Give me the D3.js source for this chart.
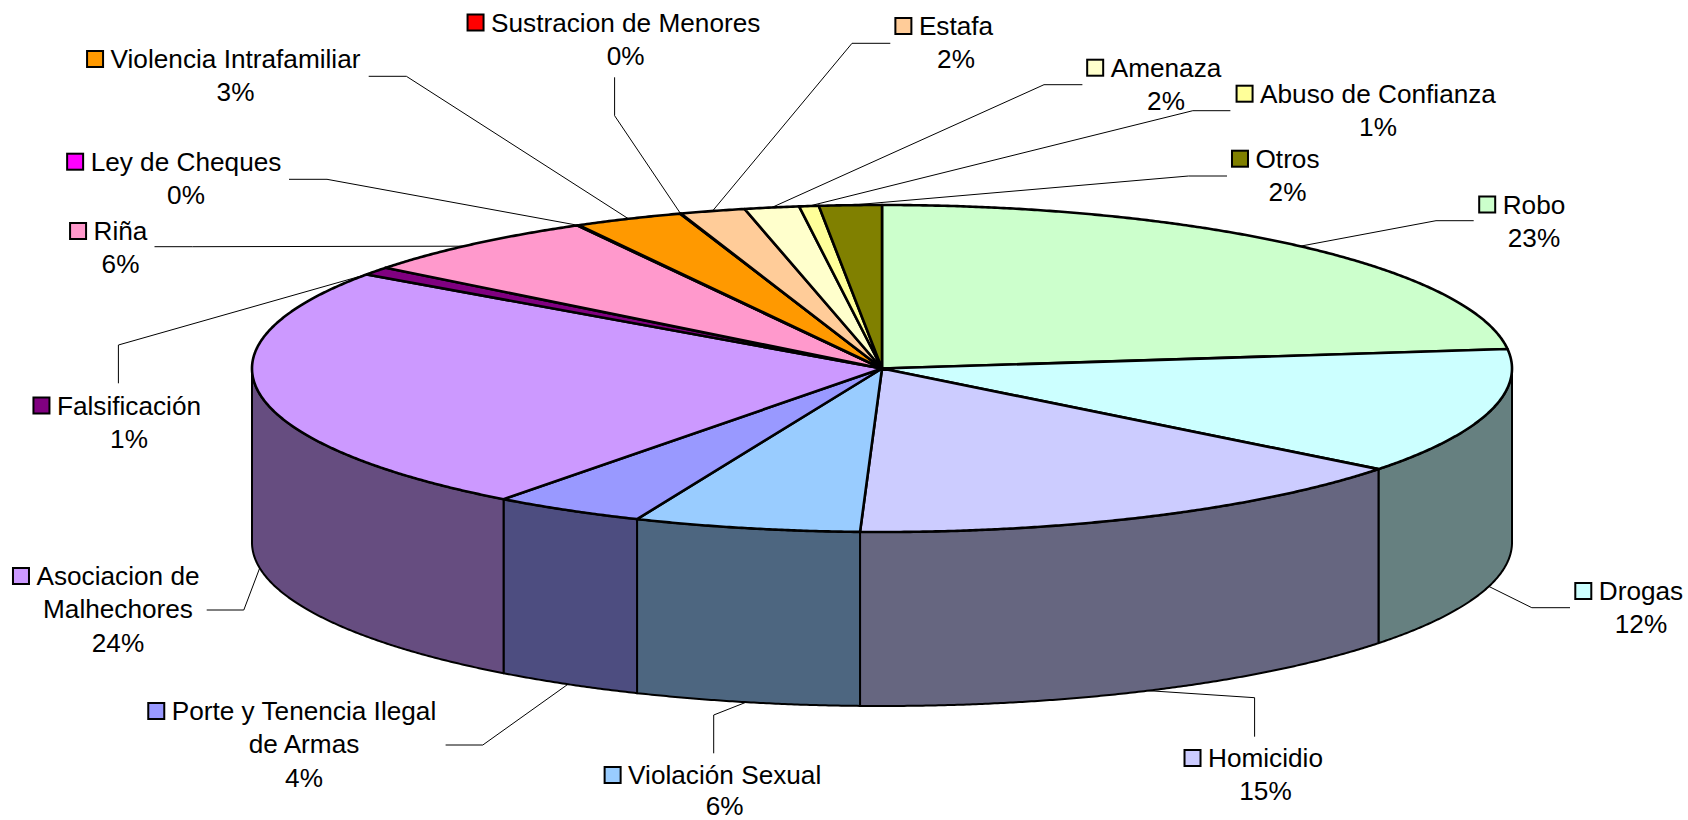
<!DOCTYPE html>
<html>
<head>
<meta charset="utf-8">
<script src="https://cdn.jsdelivr.net/npm/d3@7/dist/d3.min.js"></script>
<style>
html,body{margin:0;padding:0;background:#fff;overflow:hidden}
svg{display:block}
text{font-family:"Liberation Sans",Arial,sans-serif;font-size:26.2px;fill:#000}
</style>
</head>
<body>
<svg id="chart" width="1688" height="820"></svg>
<script>
// ---- data ----
const categories = ["Robo","Drogas","Homicidio","Violación Sexual","Porte y Tenencia Ilegal de Armas","Asociacion de Malhechores","Falsificación","Riña","Ley de Cheques","Violencia Intrafamiliar","Sustracion de Menores","Estafa","Amenaza","Abuso de Confianza","Otros"];
const shares = [23.1, 12.45, 15, 5.8, 3.9, 24.5, 0.8, 6.4, 0.05, 2.8, 0.02, 1.67, 1.4, 0.5, 1.6];
const percentLabels = ["23%","12%","15%","6%","4%","24%","1%","6%","0%","3%","0%","2%","2%","1%","2%"];
const colors = ["#CCFFCC","#CCFFFF","#CCCCFF","#99CCFF","#9999FF","#CC99FF","#800080","#FF99CC","#FF00FF","#FF9900","#FF0000","#FFCC99","#FFFFCC","#FFFF99","#808000"];

// ---- layout (not data) ----
const nameLines = [["Robo"],["Drogas"],["Homicidio"],["Violación Sexual"],["Porte y Tenencia Ilegal","de Armas"],["Asociacion de","Malhechores"],["Falsificación"],["Riña"],["Ley de Cheques"],["Violencia Intrafamiliar"],["Sustracion de Menores"],["Estafa"],["Amenaza"],["Abuso de Confianza"],["Otros"]];
const labelAnchor = [[1534,213.5],[1641,600],[1265.5,767],[724.7,784],[304,720],[118,585],[129,414.5],[120.5,240],[186,170.7],[235.5,68],[625.7,31.5],[956,35],[1166,76.7],[1378,102.7],[1287.5,167.7]];
const leaderBends = [
  [[1436,220.7],[1473.7,220.7]],[[1531.8,607.7],[1570,607.7]],[[1254.6,697.7],[1254.6,736.7]],
  [[713.7,715],[713.7,753.3]],[[482.8,745],[445.6,745]],[[243.8,610],[206.7,610]],
  [[118.4,345],[118.4,383.3]],[[192.7,246.7],[154.5,246.7]],[[327,179.3],[289,179.3]],
  [[406.4,76.3],[368.7,76.3]],[[614.6,115.7],[614.6,77.3]],[[852,43.3],[890.3,43.3]],
  [[1044,84.7],[1082.4,84.7]],[[1192.8,110.7],[1230.4,110.7]],[[1188.5,176],[1227,176]]
];
const leaderAngleShift = [0,0,0,0,0,0,-1.4,-1.1,0,0,0,0,0,0,0];
const CX = 882, CY = 368.5, RX = 630, RY = 163.5, DEPTH = 174, LINE_H = 33.4, MAX_BASELINE = 814.5;

const svg = d3.select("#chart");
const x = d3.scaleLinear().domain([-1,1]).range([CX-RX, CX+RX]);
const y = d3.scaleLinear().domain([-1,1]).range([CY-RY, CY+RY]);

const slices = d3.pie().sort(null).value(d=>d)(shares);

const rim = (t, dz=0) => [x(Math.sin(t)), y(-Math.cos(t)) + dz];
const arcPts = (a, b, dz=0) => {
  const n = Math.max(2, Math.ceil((b-a)/0.005));
  return d3.range(n+1).map(i => rim(a + (b-a)*i/n, dz));
};
const line = d3.line();
const half = c => { const r = d3.rgb(c); return d3.rgb(r.r/2, r.g/2, r.b/2).formatHex(); };

// leader lines
const gLead = svg.append("g").attr("fill","none").attr("stroke","#000").attr("stroke-width",1);
slices.forEach((s,i) => {
  const mid = (s.startAngle + s.endAngle)/2 + leaderAngleShift[i]*Math.PI/180;
  const start = rim(mid, Math.cos(mid) < 0 ? DEPTH : 0);
  gLead.append("path").attr("d", line([start, ...leaderBends[i]]));
});

// side walls (front half only)
const gWall = svg.append("g").attr("stroke","#000").attr("stroke-width",2).attr("stroke-linejoin","round");
slices.forEach((s,i) => {
  const a = Math.max(s.startAngle, Math.PI/2), b = Math.min(s.endAngle, 3*Math.PI/2);
  if (b <= a) return;
  const pts = [...arcPts(a,b), ...arcPts(a,b,DEPTH).reverse()];
  gWall.append("path").attr("d", line(pts)+"Z").attr("fill", half(colors[i]));
});

// top slices
const gTop = svg.append("g").attr("stroke","#000").attr("stroke-width",2.6).attr("stroke-linejoin","round");
slices.forEach((s,i) => {
  const pts = [[x(0),y(0)], ...arcPts(s.startAngle, s.endAngle)];
  gTop.append("path").attr("d", line(pts)+"Z").attr("fill", colors[i]);
});

// labels with legend keys
const gLab = svg.append("g");
categories.forEach((c,i) => {
  const [lx, ly] = labelAnchor[i];
  const lines = [...nameLines[i], percentLabels[i]];
  let w0 = 0;
  lines.forEach((t,k) => {
    const el = gLab.append("text").attr("x",lx).attr("y",Math.min(ly+k*LINE_H, MAX_BASELINE)).attr("text-anchor","middle").text(t);
    if (k===0) w0 = el.node().getComputedTextLength();
  });
  gLab.append("rect")
    .attr("x", lx - w0/2 - 23.5).attr("y", ly - 17)
    .attr("width",16).attr("height",16)
    .attr("fill",colors[i]).attr("stroke","#000").attr("stroke-width",2);
});
</script>
</body>
</html>
